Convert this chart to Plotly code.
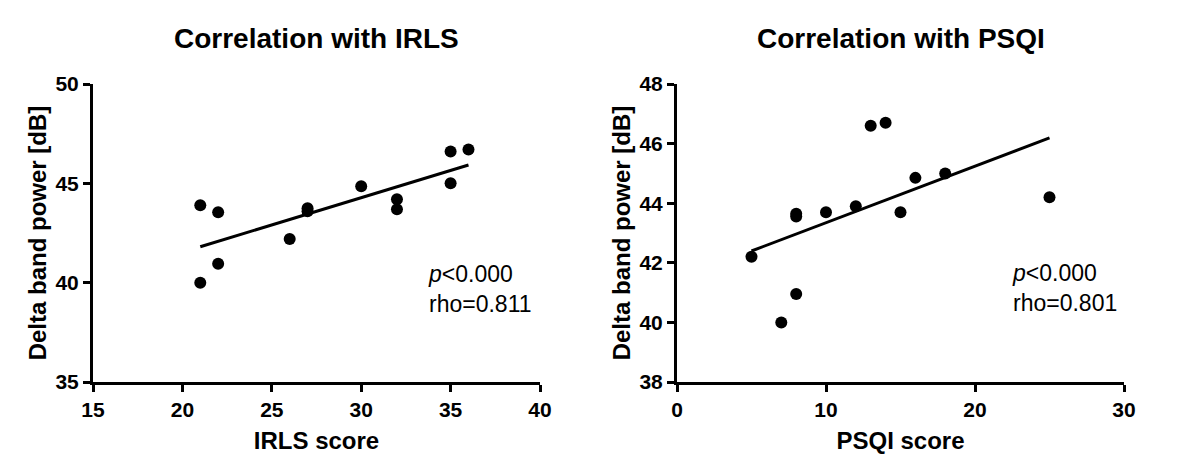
import numpy as np
import plotly.graph_objects as go

# Data
irls_score = [21, 21, 22, 22, 26, 27, 27, 30, 32, 32, 35, 35, 36]
irls_power = [43.9, 40.0, 43.55, 40.95, 42.2, 43.6, 43.75, 44.85, 44.2, 43.7, 46.6, 45.0, 46.7]

psqi_score = [5, 7, 8, 8, 8, 10, 12, 13, 14, 15, 16, 18, 25]
psqi_power = [42.2, 40.0, 43.55, 43.65, 40.95, 43.7, 43.9, 46.6, 46.7, 43.7, 44.85, 45.0, 44.2]

titles = ["Correlation with IRLS", "Correlation with PSQI"]
x_titles = ["IRLS score", "PSQI score"]
y_title = "Delta band power [dB]"
stats_text = ["<i>p</i>&lt;0.000<br>rho=0.811", "<i>p</i>&lt;0.000<br>rho=0.801"]

FONT = "Liberation Sans, Arial, sans-serif"
W, H = 1192, 473
OFF = 8  # page body margin offset

x1_dom = [(93 - OFF) / W, (540 - OFF) / W]
x2_dom = [(677 - OFF) / W, (1124 - OFF) / W]
y_dom = [(H - 382 + OFF) / H, (H - 84 + OFF) / H]

fig = go.Figure()

def add_panel(xs, ys, xa, ya):
    fig.add_trace(go.Scatter(x=xs, y=ys, mode="markers",
                             marker=dict(color="black", size=12),
                             xaxis=xa, yaxis=ya, showlegend=False, cliponaxis=False))
    slope, intercept = np.polyfit(xs, ys, 1)
    fx = np.array([min(xs), max(xs)])
    fig.add_trace(go.Scatter(x=fx, y=slope * fx + intercept, mode="lines",
                             line=dict(color="black", width=3),
                             xaxis=xa, yaxis=ya, showlegend=False))

add_panel(irls_score, irls_power, "x", "y")
add_panel(psqi_score, psqi_power, "x2", "y2")

axis_common = dict(showline=True, linecolor="black", linewidth=3, ticks="outside",
                   ticklen=7, tickwidth=3, tickcolor="black", showgrid=False,
                   zeroline=False, mirror=False, automargin=False,
                   tickfont=dict(family=FONT, size=21, color="black", weight="bold"))
title_font = dict(family=FONT, size=24, color="black", weight="bold")

fig.update_layout(
    width=W, height=H,
    margin=dict(l=0, r=0, t=0, b=0),
    paper_bgcolor="white", plot_bgcolor="white",
    font=dict(family=FONT, color="black"),
    xaxis=dict(domain=x1_dom, anchor="y", range=[15, 40], tickvals=[15, 20, 25, 30, 35, 40],
               title=dict(text=x_titles[0], font=title_font, standoff=12),
               **axis_common),
    yaxis=dict(domain=y_dom, anchor="x", range=[35, 50], tickvals=[35, 40, 45, 50],
               title=dict(text=y_title, font=title_font, standoff=3),
               **axis_common),
    xaxis2=dict(domain=x2_dom, anchor="y2", range=[0, 30], tickvals=[0, 10, 20, 30],
                title=dict(text=x_titles[1], font=title_font, standoff=12),
                **axis_common),
    yaxis2=dict(domain=y_dom, anchor="x2", range=[38, 48], tickvals=[38, 40, 42, 44, 46, 48],
                title=dict(text=y_title, font=title_font, standoff=3),
                **axis_common),
)

# Panel titles
for dom, t in zip([x1_dom, x2_dom], titles):
    fig.add_annotation(text=t, xref="paper", yref="paper",
                       x=(dom[0] + dom[1]) / 2, y=(H - 38 + OFF) / H, xanchor="center", yanchor="middle",
                       showarrow=False, font=dict(family=FONT, size=28, color="black", weight="bold"))

# Statistics text
fig.add_annotation(text=stats_text[0], xref="x", yref="y", x=33.6, y=39.7,
                   xanchor="left", yanchor="middle", align="left", showarrow=False,
                   font=dict(family=FONT, size=23, color="black"))
fig.add_annotation(text=stats_text[1], xref="x2", yref="y2", x=22.35, y=41.14,
                   xanchor="left", yanchor="middle", align="left", showarrow=False,
                   font=dict(family=FONT, size=23, color="black"))

fig.write_html("out.html")
